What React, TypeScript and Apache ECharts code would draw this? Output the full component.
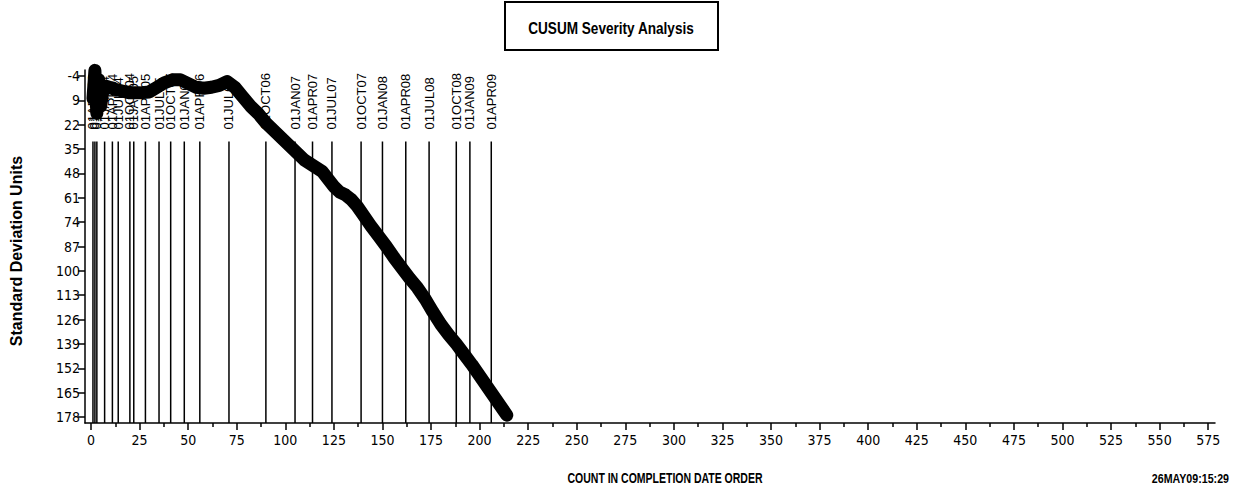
import React, { useEffect, useRef } from "react";
import * as echarts from "echarts";

// ---- data ----
const counts = [1, 2, 3, 4, 5, 6, 8, 12, 16, 20, 25, 30, 34, 38, 42, 46, 50, 54, 58, 62, 66, 70, 74, 78, 82, 86, 90, 94, 98, 102, 106, 110, 113, 116, 119, 122, 125, 128, 131, 134, 137, 140, 144, 148, 152, 156, 160, 164, 168, 172, 176, 180, 184, 188, 192, 196, 200, 204, 208, 212, 214];
const cusum = [8, -7, 16, -2, 12, 4, 1.5, 3, 4, 5, 5, 4.5, 2, -0.5, -2, -2, 0, 2, 2.5, 2, 1, -1, 2, 7, 12, 16, 21, 25, 29, 33, 37, 41, 43, 45, 47, 51, 55, 58, 59.5, 62, 65.5, 70, 76, 81.5, 87, 93, 98.5, 104, 109, 115, 122, 128.5, 134, 139, 144.5, 150, 156, 162, 168, 174, 177];

const refCounts = [1, 2, 3, 7, 11, 14, 20, 22, 28, 35, 41, 48, 56, 71, 90, 105, 114, 124, 139, 150, 162, 174, 188, 195, 206];
const refLabels = ["01APR03", "01JUL03", "01OCT03", "01JAN04", "01APR04", "01JUL04", "01OCT04", "01JAN05", "01APR05", "01JUL05", "01OCT05", "01JAN06", "01APR06", "01JUL06", "01OCT06", "01JAN07", "01APR07", "01JUL07", "01OCT07", "01JAN08", "01APR08", "01JUL08", "01OCT08", "01JAN09", "01APR09"];

const yTicks = [-4, 9, 22, 35, 48, 61, 74, 87, 100, 113, 126, 139, 152, 165, 178];
const xTicks = [0, 25, 50, 75, 100, 125, 150, 175, 200, 225, 250, 275, 300, 325, 350, 375, 400, 425, 450, 475, 500, 525, 550, 575];
const xMinorTicks = [12.5, 37.5, 62.5, 87.5, 112.5, 137.5, 162.5, 187.5, 212.5, 237.5, 262.5, 287.5, 312.5, 337.5, 362.5, 387.5, 412.5, 437.5, 462.5, 487.5, 512.5, 537.5, 562.5];

const titleText = "CUSUM Severity Analysis";
const yName = "Standard Deviation Units";
const xName = "COUNT IN COMPLETION DATE ORDER";
const stamp = "26MAY09:15:29";

const TICKFONT = "'DejaVu Sans Condensed', 'Liberation Sans', Arial, sans-serif";
const SANS = "'Liberation Sans', Arial, sans-serif";

const X_MIN = -3.1;
const X_MAX = 578.5;
const Y_MIN = -7.2;
const Y_MAX = 181.2;
const REF_TOP = 31;
const REF_LABEL_BASE = 24.5;

export default function App() {
  const ref = useRef<HTMLDivElement>(null);
  useEffect(() => {
    if (!ref.current) return;
    const chart = echarts.init(ref.current, undefined, { renderer: "svg" });
    const option: any = {
      animation: false,
      backgroundColor: "#fff",
      grid: { left: 85, top: 70, width: 1130, height: 353, containLabel: false },
      xAxis: [
        {
          type: "value",
          min: X_MIN,
          max: X_MAX,
          position: "bottom",
          axisLine: { show: true, onZero: false, lineStyle: { color: "#000", width: 1.5 } },
          axisTick: { show: true, customValues: xTicks, length: 7, inside: false, lineStyle: { color: "#000", width: 1.5 } },
          axisLabel: { show: true, customValues: xTicks, color: "#000", fontFamily: TICKFONT, fontSize: 14, margin: 10 },
          splitLine: { show: false },
        },
        {
          type: "value",
          min: X_MIN,
          max: X_MAX,
          position: "bottom",
          axisLine: { show: false, onZero: false },
          axisTick: { show: true, customValues: xMinorTicks, length: 4, lineStyle: { color: "#000", width: 1.5 } },
          axisLabel: { show: false },
          splitLine: { show: false },
        },
      ],
      yAxis: {
        type: "value",
        inverse: true,
        min: Y_MIN,
        max: Y_MAX,
        axisLine: { show: true, onZero: false, lineStyle: { color: "#000", width: 1.5 } },
        axisTick: { show: true, customValues: yTicks, length: 7, lineStyle: { color: "#000", width: 1.5 } },
        axisLabel: { show: true, customValues: yTicks, color: "#000", fontFamily: TICKFONT, fontSize: 14, margin: 5 },
        splitLine: { show: false },
      },
      series: [
        {
          type: "custom",
          z: 1,
          clip: false,
          data: refCounts.map((c, i) => [c, REF_LABEL_BASE, i]),
          encode: { x: 0, y: 1 },
          renderItem: (params: any, api: any) => {
            const c = api.value(0);
            const idx = api.value(2);
            const top = api.coord([c, REF_TOP]);
            const bot = api.coord([c, Y_MAX]);
            const lab = api.coord([c, REF_LABEL_BASE]);
            return {
              type: "group",
              children: [
                {
                  type: "line",
                  shape: { x1: top[0], y1: top[1], x2: bot[0], y2: bot[1] },
                  style: { stroke: "#000", lineWidth: 1.5 },
                },
                {
                  type: "text",
                  x: lab[0],
                  y: lab[1],
                  rotation: Math.PI / 2,
                  style: {
                    text: refLabels[idx],
                    fill: "#000",
                    font: `13px ${SANS}`,
                    align: "left",
                    verticalAlign: "middle",
                  },
                },
              ],
            };
          },
        },
        {
          type: "line",
          z: 5,
          clip: false,
          symbol: "none",
          data: counts.map((c, i) => [c, cusum[i]]),
          lineStyle: { color: "#000", width: 13, cap: "round", join: "round" },
        },
      ],
      graphic: [
        {
          type: "rect",
          shape: { x: 505, y: 2, width: 213, height: 48 },
          style: { fill: "#fff", stroke: "#000", lineWidth: 2 },
        },
        {
          type: "text",
          x: 611,
          y: 28,
          scaleX: 0.8,
          style: { text: titleText, fill: "#000", font: `bold 17px ${SANS}`, align: "center", verticalAlign: "middle" },
        },
        {
          type: "text",
          x: 16,
          y: 251,
          rotation: Math.PI / 2,
          style: { text: yName, fill: "#000", font: `bold 16px ${SANS}`, align: "center", verticalAlign: "middle" },
        },
        {
          type: "text",
          x: 665,
          y: 478,
          scaleX: 0.75,
          style: { text: xName, fill: "#000", font: `bold 14px ${SANS}`, align: "center", verticalAlign: "middle" },
        },
        {
          type: "text",
          x: 1229,
          y: 479,
          scaleX: 0.82,
          style: { text: stamp, fill: "#000", font: `bold 13px ${SANS}`, align: "right", verticalAlign: "middle" },
        },
      ],
    };
    chart.setOption(option);
    return () => chart.dispose();
  }, []);
  return (
    <div
      ref={ref}
      style={{ position: "fixed", left: 0, top: 0, width: 1233, height: 487, background: "#fff" }}
    />
  );
}
